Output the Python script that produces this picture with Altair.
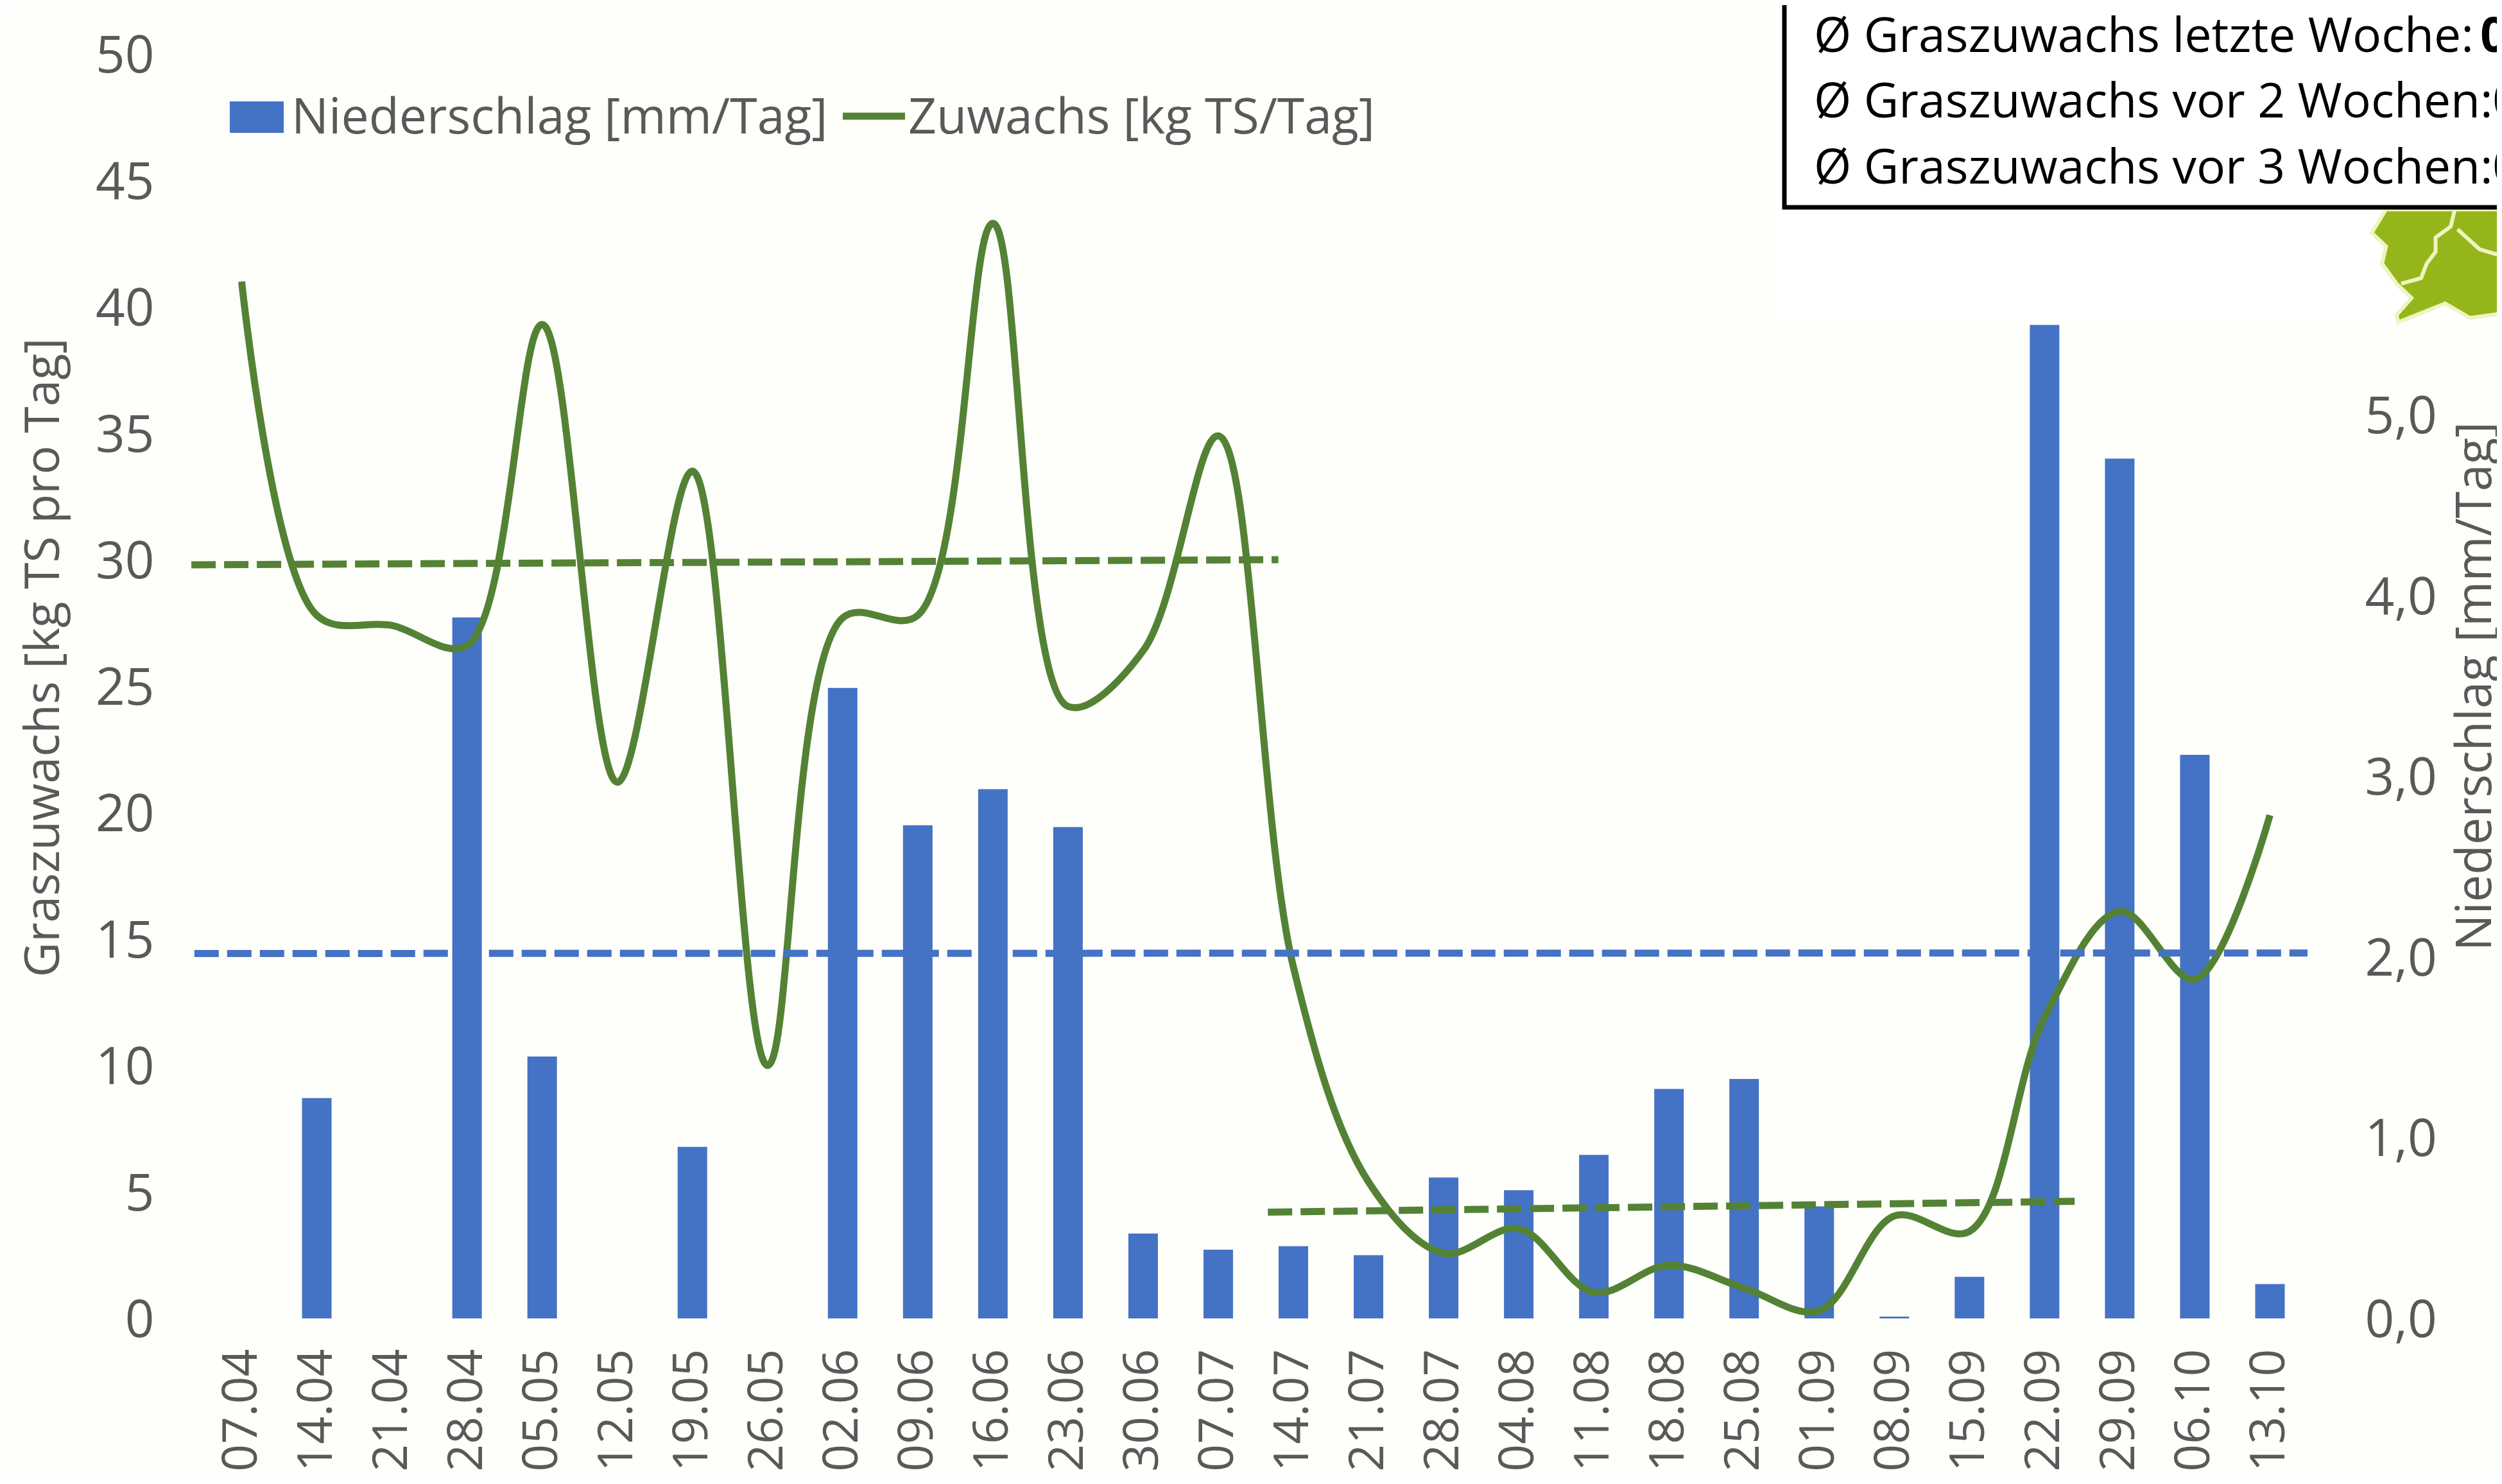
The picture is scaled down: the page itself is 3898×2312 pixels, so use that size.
import altair as alt
import pandas as pd

dates = ["07.04","14.04","21.04","28.04","05.05","12.05","19.05","26.05","02.06","09.06","16.06","23.06","30.06","07.07",
         "14.07","21.07","28.07","04.08","11.08","18.08","25.08","01.09","08.09","15.09","22.09","29.09","06.10","13.10"]
zuwachs = [41.0,27.8,27.4,26.6,39.3,21.2,33.5,10.0,27.7,27.8,43.3,24.2,26.4,34.9,
           13.9,5.4,2.58,3.55,1.03,2.1,1.2,0.3,4.05,3.44,11.9,16.1,13.4,19.9]
niederschlag = [0,1.22,0,3.88,1.45,0,0.95,0,3.49,2.73,2.93,2.72,0.47,0.38,
                0.40,0.35,0.78,0.71,0.905,1.27,1.325,0.62,0.01,0.23,5.5,4.76,3.12,0.19]
trend_x_a = [-0.17,14.3]; trend_y_a = [29.8,30.0]
trend_x_b = [14.16,24.9]; trend_y_b = [4.2,4.63]
trend_x_c = [-0.13,28.0]; trend_y_c = [14.43,14.45]
box_lines = ["Ø Graszuwachs letzte Woche: ","Ø Graszuwachs vor 2 Wochen: ","Ø Graszuwachs vor 3 Wochen: "]
box_values = ["0","0","0"]
box_value_x = [3864,3884,3884]

FONT = "Open Sans"
GRAY = "#595959"
GREEN = "#548235"
BLUE = "#4472C4"
L, T, W, H = 310, 76, 3277, 1970
def px(x): return x - 8 - L
def py(y): return y - 8 - T

df = pd.DataFrame({"d": dates, "z": zuwachs, "n": niederschlag})
xs = alt.Scale(domain=dates, paddingInner=0.607, paddingOuter=0.3035, round=False)
xenc = alt.X("d:N", scale=xs, sort=None, title=None,
             axis=alt.Axis(labelAngle=270, labelFont=FONT, labelFontSize=75, labelColor=GRAY, labelPadding=47, labelLimit=1000,
                           ticks=False, domain=False, grid=False, labelOverlap=False, labelBaseline="middle", labelAlign="right"))

bars = alt.Chart(df).mark_bar(color=BLUE).encode(
    x=xenc,
    y=alt.Y("n:Q", scale=alt.Scale(domain=[0,7]), title="Niederschlag [mm/Tag]",
            axis=alt.Axis(orient="right", values=[0,1,2,3,4,5], labelExpr="replace(format(datum.value,'.1f'),'.',',')",
                          labelFont=FONT, labelFontSize=80, labelColor=GRAY, ticks=False, domain=False, grid=False, labelPadding=89, labelOffset=4,
                          titleFont=FONT, titleFontSize=76, titleColor=GRAY, titleFontWeight="normal", titleAngle=270,
                          titleBaseline="middle", titleX=262, titleY=985)))
line = alt.Chart(df).mark_line(color=GREEN, strokeWidth=11, interpolate="catmull-rom").encode(
    x=alt.X("d:N", scale=xs, sort=None, axis=None),
    y=alt.Y("z:Q", scale=alt.Scale(domain=[0,50]), title="Graszuwachs [kg TS pro Tag]",
            axis=alt.Axis(orient="left", values=list(range(0,51,5)), labelFont=FONT, labelFontSize=80, labelColor=GRAY,
                          ticks=False, domain=False, gridColor="#d9d9d9", gridWidth=3.5, labelPadding=78, labelOffset=4,
                          titleFont=FONT, titleFontSize=75, titleColor=GRAY, titleFontWeight="normal", titleAngle=270,
                          titleBaseline="middle", titleX=-250, titleY=940)))

def trend(xv, yv, col):
    d = pd.DataFrame({"x": xv, "y": yv})
    return alt.Chart(d).mark_line(color=col, strokeWidth=11, strokeDash=[38,13], clip=False).encode(
        x=alt.X("x:Q", scale=alt.Scale(domain=[0,28], nice=False, zero=False), axis=None),
        y=alt.Y("y:Q", scale=alt.Scale(domain=[0,50]), axis=None))

def rect(x1, x2, y1, y2, **kw):
    return alt.Chart(pd.DataFrame({"a":[0]})).mark_rect(**kw).encode(
        x=alt.value(px(x1)), x2=alt.value(px(x2)), y=alt.value(py(y1)), y2=alt.value(py(y2)))
def label(t, x, y, size, col=GRAY, **kw):
    return alt.Chart(pd.DataFrame({"t":[t]})).mark_text(font=FONT, fontSize=size, color=col, align="left", baseline="middle", **kw).encode(
        x=alt.value(px(x)), y=alt.value(py(y)), text="t:N")

ROWS = [58,160,263]
patch = rect(2765, 3950, -20, 504, color="#ffffff")
box = rect(2780, 3960, -30, 323, fill="#ffffff", stroke="black", strokeWidth=7)
txt = [label(box_lines[i], 2826, ROWS[i], 75, "black") for i in range(3)]
bold = [label(box_values[i], box_value_x[i], ROWS[i], 75, "black", fontWeight="bold") for i in range(3)]
swatch = rect(358, 442, 158, 207, color=BLUE)
leg1 = label("Niederschlag [mm/Tag]", 454, 185, 77)
legline = alt.Chart(pd.DataFrame({"a":[0]})).mark_rule(color=GREEN, strokeWidth=11).encode(
    x=alt.value(px(1313)), x2=alt.value(px(1410)), y=alt.value(py(181)))
leg2 = label("Zuwachs [kg TS/Tag]", 1415, 185, 77)

blob = "M-0.79,-0.82 L-1,-0.48 L-0.79,-0.28 L-0.85,-0.03 L-0.64,0.26 L-0.42,0.47 L-0.64,0.72 L-0.61,0.82 L0.07,0.55 L0.43,0.76 L1,0.68 L1,-0.82 Z"
river = "M0.21,-0.82 L0.15,-0.57 L-0.07,-0.41 L-0.07,-0.2 L-0.2,-0.03 L-0.28,0.18 L-0.57,0.26 M0.25,-0.53 L0.57,-0.24 L1,-0.11"
pt = alt.Chart(pd.DataFrame({"a":[0]}))
logo = pt.mark_point(shape=blob, filled=True, fill="#95B61A", stroke="#EEF5C0", strokeWidth=6, size=214**2, opacity=1, clip=False).encode(
    x=alt.value(px(3802)), y=alt.value(py(414)))
logo2 = pt.mark_point(shape=river, filled=False, stroke="#EEF5C0", strokeWidth=6, size=214**2, opacity=1).encode(
    x=alt.value(px(3802)), y=alt.value(py(414)))

chart = alt.layer(
    bars, line,
    trend(trend_x_a, trend_y_a, GREEN), trend(trend_x_b, trend_y_b, GREEN), trend(trend_x_c, trend_y_c, BLUE),
    patch, logo, logo2, box, *txt, *bold, swatch, leg1, legline, leg2
).resolve_scale(x="independent", y="independent").resolve_axis(y="independent").properties(
    width=W, height=H, background="#FEFEFA",
    autosize=alt.AutoSizeParams(type="none"),
    padding={"left": L, "top": T, "right": 3882 - L - W, "bottom": 2288 - T - H},
).configure_view(stroke=None)
chart.save("out.html", embed_options={"renderer": "svg", "actions": False})
